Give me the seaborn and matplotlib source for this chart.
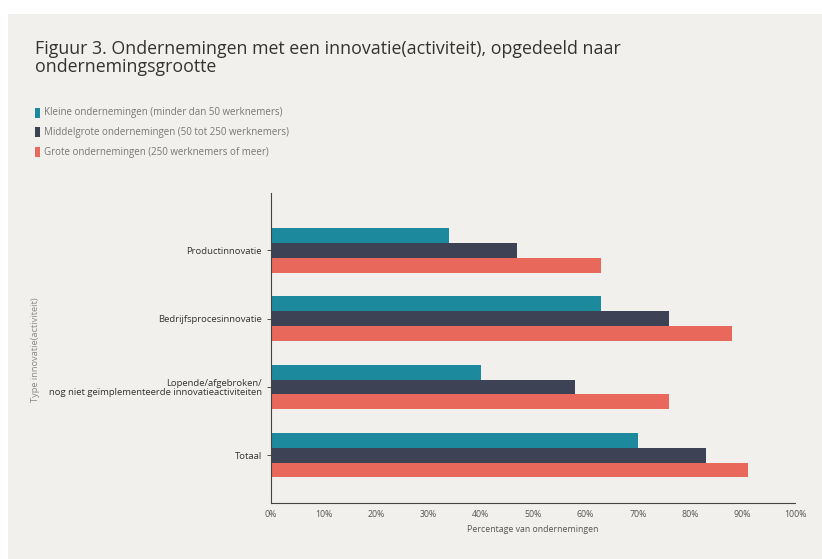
import matplotlib
matplotlib.use("Agg")
import matplotlib.pyplot as plt
import matplotlib.patches as mpatches
import pandas as pd
import seaborn as sns

CATEGORIES = [
    "Productinnovatie",
    "Bedrijfsprocesinnovatie",
    "Lopende/afgebroken/\nnog niet geïmplementeerde innovatieactiviteiten",
    "Totaal",
]
SERIES = [
    "Kleine ondernemingen (minder dan 50 werknemers)",
    "Middelgrote ondernemingen (50 tot 250 werknemers)",
    "Grote ondernemingen (250 werknemers of meer)",
]
KLEIN = [34, 63, 40, 70]
MIDDEL = [47, 76, 58, 83]
GROOT = [63, 88, 76, 91]
COLORS = ["#1c8a9c", "#3d4354", "#e8685c"]
X_TICKS = [0, 10, 20, 30, 40, 50, 60, 70, 80, 90, 100]

TITLE = "Figuur 3. Ondernemingen met een innovatie(activiteit), opgedeeld naar\nondernemingsgrootte"

rows = []
for s, vals in zip(SERIES, [KLEIN, MIDDEL, GROOT]):
    for c, v in zip(CATEGORIES, vals):
        rows.append({"type": c, "grootte": s, "pct": v})
df = pd.DataFrame(rows)

sns.set_style("white")
plt.rcParams["font.family"] = ["Open Sans", "DejaVu Sans"]

BG = "#f1f0ec"
fig = plt.figure(figsize=(8.22, 5.59), dpi=100, facecolor="white")
# light panel behind everything
fig.patches.append(mpatches.Rectangle((8 / 822, 0), 1, 1 - 14 / 559,
                                      transform=fig.transFigure, facecolor=BG,
                                      edgecolor="none", zorder=-10))

ax = fig.add_axes([271 / 822, 1 - 503 / 559, 524 / 822, 310 / 559])
ax.set_facecolor(BG)
sns.barplot(data=df, y="type", x="pct", hue="grootte", order=CATEGORIES,
            hue_order=SERIES, palette=COLORS, width=0.65, orient="h",
            saturation=1, legend=False, linewidth=0, edgecolor="none", ax=ax)

ax.set_xlim(0, 100)
ax.set_ylim(3.70, -0.84)
ax.set_xticks(X_TICKS)
ax.set_xticklabels([f"{t}%" for t in X_TICKS])
ax.tick_params(axis="x", labelsize=6.3, colors="#555555", length=3, width=0.6,
               direction="inout", labelcolor="#555555")
ax.tick_params(axis="y", labelsize=6.8, length=3, width=0.6, left=True,
               colors="#333333", labelcolor="#333333")
for lab in ax.get_yticklabels():
    lab.set_horizontalalignment("right")
    lab.set_linespacing(0.95)
for side in ["top", "right"]:
    ax.spines[side].set_visible(False)
for side in ["left", "bottom"]:
    ax.spines[side].set_color("#444444")
    ax.spines[side].set_linewidth(0.8)

ax.set_xlabel("Percentage van ondernemingen", fontsize=6.3, color="#555555", labelpad=4)
ax.set_ylabel("")
fig.text(36 / 822, 1 - 350 / 559, "Type innovatie(activiteit)", rotation=90,
         ha="center", va="center", fontsize=6.7, color="#8a8a8a")

fig.text(35 / 822, 1 - 40 / 559, TITLE, ha="left", va="top", fontsize=12.8,
         color="#333333", linespacing=1.0)

# legend drawn as small swatches
for i, (s, col) in enumerate(zip(SERIES, COLORS)):
    y = 1 - (113 + i * 19.5) / 559
    fig.patches.append(mpatches.Rectangle((35 / 822, y - 5 / 559), 5 / 822, 10 / 559,
                                          transform=fig.transFigure, facecolor=col,
                                          edgecolor="none"))
    fig.text(44 / 822, y, s, ha="left", va="center", fontsize=7, color="#777777")

fig.savefig("out.png", dpi=100, facecolor=fig.get_facecolor())
